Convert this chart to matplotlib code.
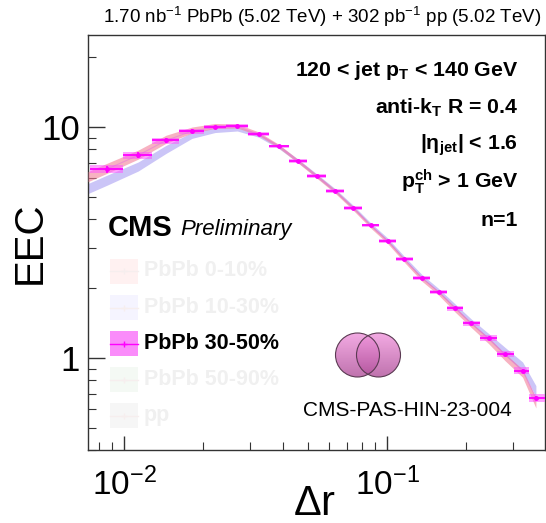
import numpy as np
import matplotlib
matplotlib.use("Agg")
import matplotlib.pyplot as plt
from matplotlib.patches import Rectangle, Circle
from matplotlib.lines import Line2D
from matplotlib.ticker import FixedLocator, FuncFormatter, NullFormatter

plt.rcParams['font.family'] = ['Liberation Sans', 'DejaVu Sans']
plt.rcParams['mathtext.fontset'] = 'custom'
plt.rcParams['mathtext.rm'] = 'Liberation Sans'
plt.rcParams['mathtext.it'] = 'Liberation Sans:italic'
plt.rcParams['mathtext.bf'] = 'Liberation Sans:bold'

# ---------------- data ----------------
bin_edges = [0.00741, 0.00986, 0.01271, 0.01614, 0.02009, 0.02446, 0.02954, 0.03549,
             0.04228, 0.04972, 0.05845, 0.06844, 0.08013, 0.09298, 0.1079, 0.1252,
             0.1454, 0.1687, 0.1940, 0.2252, 0.2613, 0.3032, 0.3457, 0.3977]
bin_centers = [0.00857, 0.01130, 0.01441, 0.01809, 0.02213, 0.02690, 0.03243, 0.03875,
               0.04588, 0.05389, 0.06326, 0.07424, 0.08647, 0.1003, 0.1160, 0.1351,
               0.1568, 0.1814, 0.2087, 0.2429, 0.2803, 0.3271, 0.3675]
eec_3050 = [6.56, 7.54, 8.74, 9.59, 9.98, 10.05, 9.31, 8.24, 7.12, 6.14, 5.29, 4.47,
            3.75, 3.22, 2.68, 2.23, 1.935, 1.646, 1.413, 1.217, 1.038, 0.881, 0.674]
stat_3050 = [0.035, 0.03, 0.028, 0.02, 0.015, 0.012, 0.01, 0.01, 0.01, 0.01, 0.01, 0.01,
             0.01, 0.01, 0.01, 0.01, 0.01, 0.01, 0.012, 0.012, 0.015, 0.015, 0.02]
sys_3050 = [0.04, 0.035, 0.03, 0.025, 0.02, 0.02, 0.018, 0.018, 0.018, 0.018, 0.018,
            0.018, 0.018, 0.018, 0.02, 0.02, 0.02, 0.025, 0.025, 0.03, 0.03, 0.035, 0.04]
eec_010 = [6.62, 7.60, 8.85, 9.70, 10.1, 10.1, 9.35, 8.25, 7.10, 6.12, 5.27, 4.44,
           3.72, 3.19, 2.65, 2.20, 1.91, 1.62, 1.39, 1.19, 1.01, 0.86, 0.64]
sys_010 = [0.05, 0.045, 0.04, 0.03, 0.025, 0.02, 0.018, 0.018, 0.018, 0.018, 0.018,
           0.018, 0.018, 0.018, 0.018, 0.02, 0.02, 0.025, 0.025, 0.03, 0.035, 0.04, 0.05]
eec_1030 = [5.88, 6.75, 8.00, 9.20, 9.70, 9.80, 9.20, 8.20, 7.12, 6.16, 5.32, 4.50,
            3.78, 3.25, 2.71, 2.26, 1.96, 1.67, 1.44, 1.24, 1.07, 0.92, 0.72]
sys_1030 = [0.05, 0.045, 0.04, 0.03, 0.025, 0.02, 0.018, 0.018, 0.018, 0.018, 0.018,
            0.018, 0.018, 0.018, 0.018, 0.02, 0.02, 0.025, 0.025, 0.03, 0.04, 0.045, 0.055]

legend_labels = ['PbPb 0-10%', 'PbPb 10-30%', 'PbPb 30-50%', 'PbPb 50-90%', 'pp']
legend_box_colors = ['#fff1f1', '#f5f4ff', '#fa8cfa', '#f4f9f4', '#f6f6f6']
legend_text_colors = ['#f0f0f0', '#f0f0f0', 'black', '#f0f0f0', '#f0f0f0']
info_lines = [r'120 < jet p$_\mathbf{T}$ < 140 GeV',
              r'anti-k$_\mathbf{T}$ R = 0.4',
              r'|$\mathbf{\eta}_\mathbf{jet}$| < 1.6',
              r'p$_\mathbf{T}^\mathbf{ch}$ > 1 GeV',
              'n=1']

W, H = 546, 523
fig = plt.figure(figsize=(W / 100, H / 100), dpi=100)
ax = fig.add_axes([88 / W, (H - 450) / H, (545 - 88) / W, (450 - 35) / H])
ax.set_xscale('log')
ax.set_yscale('log')
ax.set_xlim(0.00728, 0.398)
ax.set_ylim(0.40, 25.0)

xc = np.array(bin_centers)
edges = np.array(bin_edges)


def band(y, rel):
    y = np.array(y)
    rel = np.array(rel)
    lx = np.log(xc)
    ly = np.log(y)
    # extend band to the left axis edge in log-log
    s0 = (ly[1] - ly[0]) / (lx[1] - lx[0])
    x0 = ax.get_xlim()[0]
    xe = np.concatenate([[x0], xc])
    ye = np.concatenate([[np.exp(ly[0] + s0 * (np.log(x0) - lx[0]))], y])
    re = np.concatenate([[rel[0]], rel])
    return xe, ye * (1 - re), ye * (1 + re)


xe, lo, hi = band(eec_1030, sys_1030)
ax.fill_between(xe, lo, hi, color='#a99ff2', alpha=0.6, lw=0, zorder=2)
xe, lo, hi = band(eec_010, sys_010)
ax.fill_between(xe, lo, hi, color='#f27f98', alpha=0.6, lw=0, zorder=3)

y3 = np.array(eec_3050)
for i in range(len(xc)):
    ax.add_patch(Rectangle((edges[i], y3[i] * (1 - sys_3050[i])), edges[i + 1] - edges[i],
                           y3[i] * 2 * sys_3050[i], facecolor='#ff55ff', alpha=0.55,
                           lw=0, zorder=4))
ax.plot(xc, y3, color='#e070e0', lw=0.8, alpha=0.5, zorder=4)
xerr = np.vstack([xc - edges[:-1], edges[1:] - xc])
ax.errorbar(xc, y3, yerr=y3 * np.array(stat_3050), xerr=xerr, fmt='o', ms=2.5,
            color='#ff00ff', mec='#ff00ff', elinewidth=1.3, capsize=0, zorder=5)

# axes styling
for s in ax.spines.values():
    s.set_color('#333333')
    s.set_linewidth(1.0)
ax.tick_params(which='both', direction='in', top=False, right=False, color='#333333')
ax.tick_params(axis='y', which='major', length=12, width=1.0, labelsize=25, pad=6)
ax.tick_params(axis='y', which='minor', length=6, width=0.8)
ax.tick_params(axis='x', which='major', length=10, width=1.0, labelsize=24, pad=13)
ax.tick_params(axis='x', which='minor', length=6, width=0.8)
ax.xaxis.set_major_locator(FixedLocator([0.01, 0.1]))
ax.xaxis.set_major_formatter(FuncFormatter(lambda v, p: r'$10^{%d}$' % round(np.log10(v))))
ax.xaxis.set_minor_formatter(NullFormatter())
ax.yaxis.set_major_locator(FixedLocator([1, 10]))
ax.yaxis.set_major_formatter(FuncFormatter(lambda v, p: '%d' % round(v)))
ax.yaxis.set_minor_formatter(NullFormatter())

fig.text(30 / W, 1 - 243 / H, 'EEC', rotation=90, fontsize=29, ha='center', va='center')
fig.text(315 / W, 1 - 504 / H, r'$\Delta$r', fontsize=30, ha='center', va='center')

fig.text(541 / W, 1 - 17 / H,
         r'1.70 nb$^{-1}$ PbPb (5.02 TeV) + 302 pb$^{-1}$ pp (5.02 TeV)',
         fontsize=13.5, ha='right', va='center')

info_y = [71, 108, 145, 182, 220]
for txt, yp in zip(info_lines, info_y):
    fig.text(518 / W, 1 - yp / H, txt, fontsize=15.3, fontweight='bold',
             ha='right', va='center')

fig.text(108 / W, 1 - 228 / H, 'CMS', fontsize=21, fontweight='bold', ha='left', va='center')
fig.text(180 / W, 1 - 229 / H, 'Preliminary', fontsize=16, style='italic',
         ha='left', va='center')

# legend
leg_y = [271, 307.5, 343.7, 379.7, 415.5]
for lab, bc, tc, yp in zip(legend_labels, legend_box_colors, legend_text_colors, leg_y):
    fig.patches.append(Rectangle((110 / W, 1 - (yp + 12.5) / H), 28 / W, 25 / H,
                                 facecolor=bc, edgecolor='none',
                                 transform=fig.transFigure, figure=fig, zorder=5))
    lc = '#ff00ff' if tc == 'black' else '#f6eeee'
    fig.lines.append(Line2D([110 / W, 138 / W], [1 - yp / H, 1 - yp / H], color=lc, lw=1,
                            transform=fig.transFigure, figure=fig, zorder=6))
    fig.lines.append(Line2D([124 / W], [1 - yp / H], color=lc, marker='+', ms=4,
                            transform=fig.transFigure, figure=fig, zorder=6))
    fig.text(144 / W, 1 - yp / H, lab, fontsize=15.5, fontweight='bold', color=tc,
             ha='left', va='center')

fig.text(407 / W, 1 - 410 / H, 'CMS-PAS-HIN-23-004', fontsize=15, ha='center',
         va='center')

# logo (two overlapping circles)
lax = fig.add_axes([330 / W, 1 - 382 / H, 76 / W, 54 / H])
lax.set_xlim(330, 406)
lax.set_ylim(382, 328)
lax.set_aspect('equal')
lax.axis('off')
grad = np.linspace(0, 1, 100).reshape(-1, 1)
cmap = matplotlib.colors.LinearSegmentedColormap.from_list('lg', ['#f095dc', '#b0509a'])
for cx in (357.5, 378.5):
    circ = Circle((cx, 355), 22, facecolor='none', edgecolor='#5a3a52', lw=0.8, zorder=3)
    lax.add_patch(circ)
    im = lax.imshow(grad, extent=(cx - 22, cx + 22, 377, 333), cmap=cmap, alpha=0.8,
                    aspect='auto', zorder=2)
    im.set_clip_path(circ)

fig.savefig('out.png', dpi=100)
